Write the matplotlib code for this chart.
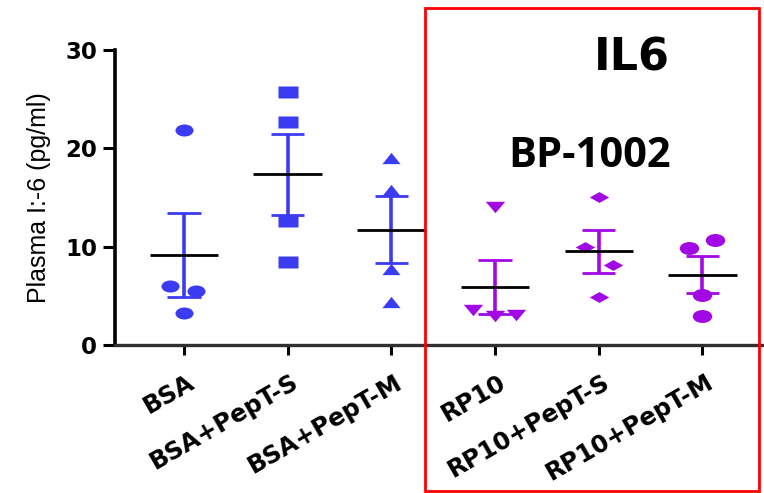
import numpy as np
import matplotlib
matplotlib.use("Agg")
import matplotlib.pyplot as plt
from matplotlib.path import Path
from matplotlib.patches import Rectangle
from matplotlib.transforms import ScaledTranslation

# groups and the four animals in each one
groups = ["BSA", "BSA+PepT-S", "BSA+PepT-M", "RP10", "RP10+PepT-S", "RP10+PepT-M"]
bsa = [21.9, 5.95, 5.45, 3.25]
bsa_s = [25.7, 22.7, 12.6, 8.4]
bsa_m = [19.05, 15.8, 7.7, 4.4]
rp10 = [14.05, 3.55, 2.9, 3.05]
rp10_s = [15.1, 9.95, 8.15, 4.85]
rp10_m = [10.7, 9.85, 5.1, 2.9]
# horizontal scatter of the points inside a group
jitter = [
    [0.0, -0.13, 0.12, 0.0],
    [0.0, 0.0, 0.0, 0.0],
    [0.0, 0.0, 0.0, 0.0],
    [0.0, -0.21, 0.0, 0.2],
    [0.0, -0.13, 0.14, 0.0],
    [0.12, -0.13, 0.0, 0.0],
]
values = [bsa, bsa_s, bsa_m, rp10, rp10_s, rp10_m]

blue = "#3b3bf2"
purple = "#a108e4"
colors = [blue, blue, blue, purple, purple, purple]


# squashed markers (the original picture is stretched sideways)
def shape(pts):
    pts = np.array(pts, dtype=float)
    codes = [Path.MOVETO] + [Path.LINETO] * (len(pts) - 1) + [Path.CLOSEPOLY]
    return Path(np.vstack([pts, pts[:1]]), codes)


circ = Path.unit_circle()
ellipse = Path(circ.vertices * [1.5, 1.0], circ.codes)
square = shape([(-1.5, -1), (1.5, -1), (1.5, 1), (-1.5, 1)])
tri_up = shape([(-1.6, -1), (1.6, -1), (0, 1)])
tri_dn = shape([(-1.7, 1), (1.7, 1), (0, -1)])
diamond = shape([(0, 1), (1.8, 0), (0, -1), (-1.8, 0)])
markers = [ellipse, square, tri_up, tri_dn, diamond, ellipse]
msizes = [13, 14, 13, 14, 14, 14]

fig = plt.figure(figsize=(7.64, 4.93), dpi=100)
ax = fig.add_axes([0.1505, 0.3002, 0.8495, 0.5984])

for i in range(len(groups)):
    v = np.array(values[i])
    x = i + np.array(jitter[i])
    ax.plot(x, v, linestyle="none", marker=markers[i], ms=msizes[i],
            color=colors[i], mec="none", zorder=2)
    m = v.mean()
    sem = v.std(ddof=1) / np.sqrt(len(v))
    ax.vlines(i, m - sem, m + sem, color=colors[i], lw=2.6, zorder=3)
    ax.hlines([m - sem, m + sem], i - 0.16, i + 0.16, color=colors[i], lw=2.0, zorder=3)
    ax.hlines(m, i - 0.33, i + 0.33, color="black", lw=2.0, zorder=4)

ax.set_xlim(-0.665, 5.593)
ax.set_ylim(0, 30)
ax.set_yticks([0, 10, 20, 30])
ax.set_xticks(range(len(groups)))
ax.set_xticklabels(groups)

for s in ["top", "right"]:
    ax.spines[s].set_visible(False)
ax.spines["left"].set_linewidth(2.6)
ax.spines["bottom"].set_linewidth(2.4)
ax.spines["bottom"].set_color("#303030")

ax.tick_params(axis="y", length=9, width=2.2, pad=4)
ax.tick_params(axis="x", length=7, width=2.2, pad=11)
for t in ax.get_yticklabels():
    t.set_fontfamily("DejaVu Sans")
    t.set_fontweight("heavy")
    t.set_fontsize(16.5)
shift = ScaledTranslation(0.03, 0, fig.dpi_scale_trans)
for t in ax.get_xticklabels():
    t.set_fontfamily("DejaVu Sans")
    t.set_fontweight("bold")
    t.set_fontsize(17.5)
    t.set_rotation(30)
    t.set_rotation_mode("anchor")
    t.set_ha("right")
    t.set_va("top")
    t.set_transform(t.get_transform() + shift)

ax.set_ylabel("Plasma I:-6 (pg/ml)", fontsize=18, family="Liberation Sans")
ax.yaxis.set_label_coords(-0.098, 0.5)

fig.text(0.827, 0.882, "IL6", fontsize=32, fontweight="heavy",
         family="DejaVu Sans", ha="center", va="center")
fig.text(0.772, 0.683, "BP-1002", fontsize=30, fontweight="bold",
         family="Open Sans", ha="center", va="center")

# red box around the RP10 groups
fig.add_artist(Rectangle((0.5563, 0.004), 0.4372, 0.9797, transform=fig.transFigure,
                         fill=False, edgecolor="#ff0000", lw=2.0))

fig.savefig("out.png", dpi=100)
